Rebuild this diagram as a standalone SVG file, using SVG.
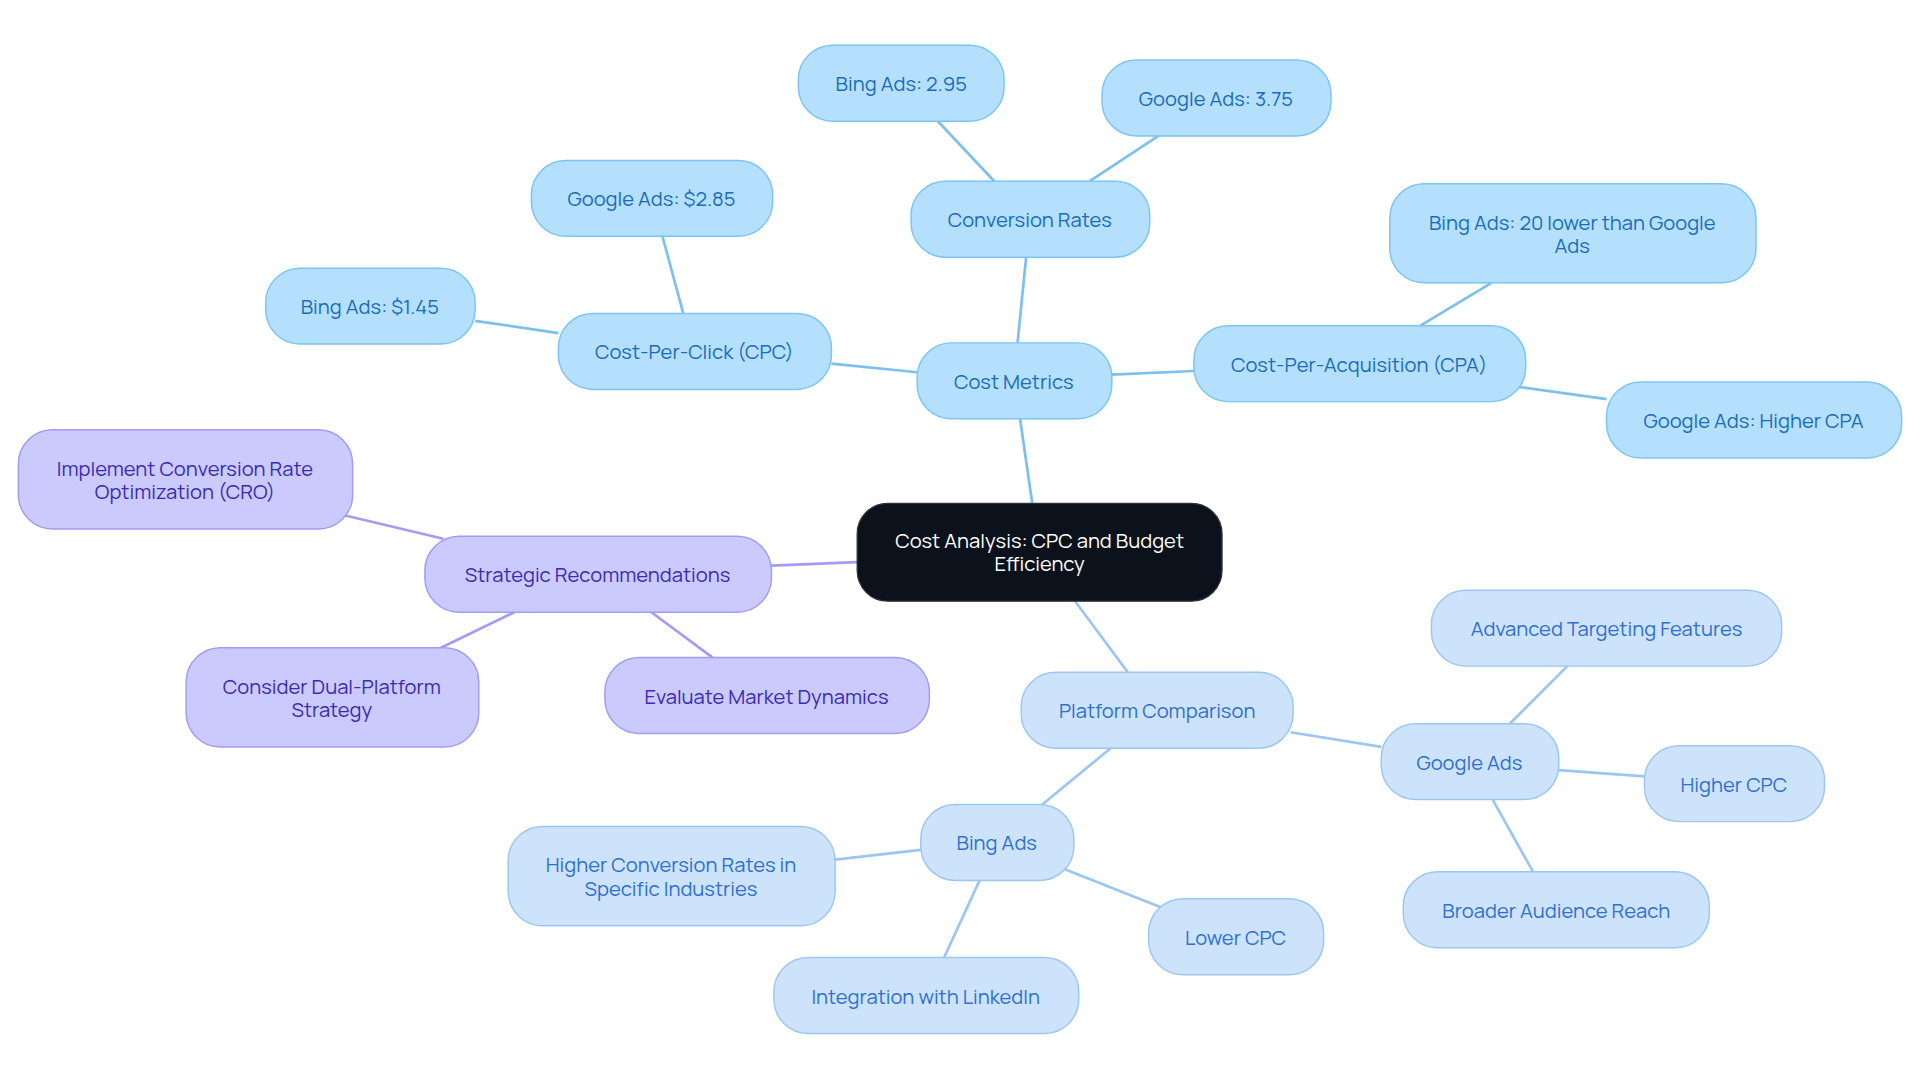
<svg xmlns="http://www.w3.org/2000/svg" width="1920" height="1083" viewBox="0 0 1920 1083">
<style>
text{font-family:Manrope,Inter,"Liberation Sans",sans-serif;font-size:16.5px;text-anchor:middle;dominant-baseline:central}
.a rect{fill:#b4e0fd;stroke:#7cc4f2;stroke-width:1.2}.a text{fill:#1a6cb8}
.b rect{fill:#cde3fb;stroke:#9cc6f2;stroke-width:1.2}.b text{fill:#2f6fd0}
.c rect{fill:#cacafc;stroke:#a29cf0;stroke-width:1.2}.c text{fill:#3a2cb0}
.la{stroke:#7cc0ee;stroke-width:2.2;fill:none}.lb{stroke:#9cc6f2;stroke-width:2.2;fill:none}.lc{stroke:#a39cf0;stroke-width:2.2;fill:none}
</style>
<rect width="1920" height="1083" fill="#fff"/>
<g transform="scale(1.2245)">
<g id="connectors">
<line class="la" x1="843" y1="411" x2="833" y2="342"/>
<line class="la" x1="831" y1="280" x2="838" y2="210"/>
<line class="la" x1="812" y1="148" x2="765" y2="98"/>
<line class="la" x1="890" y1="148" x2="946" y2="111"/>
<line class="la" x1="749" y1="304" x2="679" y2="297"/>
<line class="la" x1="558" y1="256" x2="541" y2="193"/>
<line class="la" x1="456" y1="272" x2="388" y2="262"/>
<line class="la" x1="908" y1="306" x2="975" y2="303"/>
<line class="la" x1="1160" y1="266" x2="1218" y2="231"/>
<line class="la" x1="1240" y1="316" x2="1312" y2="326"/>
<line class="lc" x1="700" y1="459" x2="630" y2="462"/>
<line class="lc" x1="362" y1="440" x2="282" y2="421"/>
<line class="lc" x1="420" y1="500" x2="358" y2="530"/>
<line class="lc" x1="532" y1="500" x2="582" y2="537"/>
<line class="lb" x1="878" y1="491" x2="921" y2="549"/>
<line class="lb" x1="1054" y1="598" x2="1128" y2="610"/>
<line class="lb" x1="1233" y1="591" x2="1280" y2="544"/>
<line class="lb" x1="1273" y1="629" x2="1343" y2="634"/>
<line class="lb" x1="1219" y1="653" x2="1252" y2="712"/>
<line class="lb" x1="907" y1="611" x2="850" y2="658"/>
<line class="lb" x1="752" y1="694" x2="682" y2="702"/>
<line class="lb" x1="870" y1="710" x2="948" y2="741"/>
<line class="lb" x1="800" y1="719" x2="771" y2="782"/>
</g>
<g id="center"><rect x="700" y="411" width="298" height="80" rx="25" fill="#0b121b" stroke="#333" stroke-width="1"/><text x="849" y="441" fill="#fff">Cost Analysis: CPC and Budget</text><text x="849" y="460" fill="#fff">Efficiency</text></g>
<g id="n1" class="a"><rect x="749" y="280" width="159" height="62" rx="28"/><text x="828" y="311">Cost Metrics</text></g>
<g id="n2" class="a"><rect x="744" y="148" width="195" height="62" rx="28"/><text x="841" y="179">Conversion Rates</text></g>
<g id="n3" class="a"><rect x="652" y="37" width="168" height="62" rx="28"/><text x="736" y="68">Bing Ads: 2.95</text></g>
<g id="n4" class="a"><rect x="900" y="49" width="187" height="62" rx="28"/><text x="993" y="80">Google Ads: 3.75</text></g>
<g id="n5" class="a"><rect x="456" y="256" width="223" height="62" rx="28"/><text x="567" y="287">Cost-Per-Click (CPC)</text></g>
<g id="n6" class="a"><rect x="434" y="131" width="197" height="62" rx="28"/><text x="532" y="162">Google Ads: $2.85</text></g>
<g id="n7" class="a"><rect x="217" y="219" width="171" height="62" rx="28"/><text x="302" y="250">Bing Ads: $1.45</text></g>
<g id="n8" class="a"><rect x="975" y="266" width="271" height="62" rx="28"/><text x="1110" y="297">Cost-Per-Acquisition (CPA)</text></g>
<g id="n9" class="a"><rect x="1135" y="150" width="299" height="81" rx="28"/><text x="1284" y="181">Bing Ads: 20 lower than Google</text><text x="1284" y="200">Ads</text></g>
<g id="n10" class="a"><rect x="1312" y="312" width="241" height="62" rx="28"/><text x="1432" y="343">Google Ads: Higher CPA</text></g>
<g id="n11" class="c"><rect x="347" y="438" width="283" height="62" rx="28"/><text x="488" y="469">Strategic Recommendations</text></g>
<g id="n12" class="c"><rect x="15" y="351" width="273" height="81" rx="28"/><text x="151" y="382">Implement Conversion Rate</text><text x="151" y="401">Optimization (CRO)</text></g>
<g id="n13" class="c"><rect x="152" y="529" width="239" height="81" rx="28"/><text x="271" y="560">Consider Dual-Platform</text><text x="271" y="579">Strategy</text></g>
<g id="n14" class="c"><rect x="494" y="537" width="265" height="62" rx="28"/><text x="626" y="568">Evaluate Market Dynamics</text></g>
<g id="n15" class="b"><rect x="834" y="549" width="222" height="62" rx="28"/><text x="945" y="580">Platform Comparison</text></g>
<g id="n16" class="b"><rect x="1128" y="591" width="145" height="62" rx="28"/><text x="1200" y="622">Google Ads</text></g>
<g id="n17" class="b"><rect x="1169" y="482" width="286" height="62" rx="28"/><text x="1312" y="513">Advanced Targeting Features</text></g>
<g id="n18" class="b"><rect x="1343" y="609" width="147" height="62" rx="28"/><text x="1416" y="640">Higher CPC</text></g>
<g id="n19" class="b"><rect x="1146" y="712" width="250" height="62" rx="28"/><text x="1271" y="743">Broader Audience Reach</text></g>
<g id="n20" class="b"><rect x="752" y="657" width="125" height="62" rx="28"/><text x="814" y="688">Bing Ads</text></g>
<g id="n21" class="b"><rect x="415" y="675" width="267" height="81" rx="28"/><text x="548" y="706">Higher Conversion Rates in</text><text x="548" y="725">Specific Industries</text></g>
<g id="n22" class="b"><rect x="938" y="734" width="143" height="62" rx="28"/><text x="1009" y="765">Lower CPC</text></g>
<g id="n23" class="b"><rect x="632" y="782" width="249" height="62" rx="28"/><text x="756" y="813">Integration with LinkedIn</text></g>
</g>
</svg>
